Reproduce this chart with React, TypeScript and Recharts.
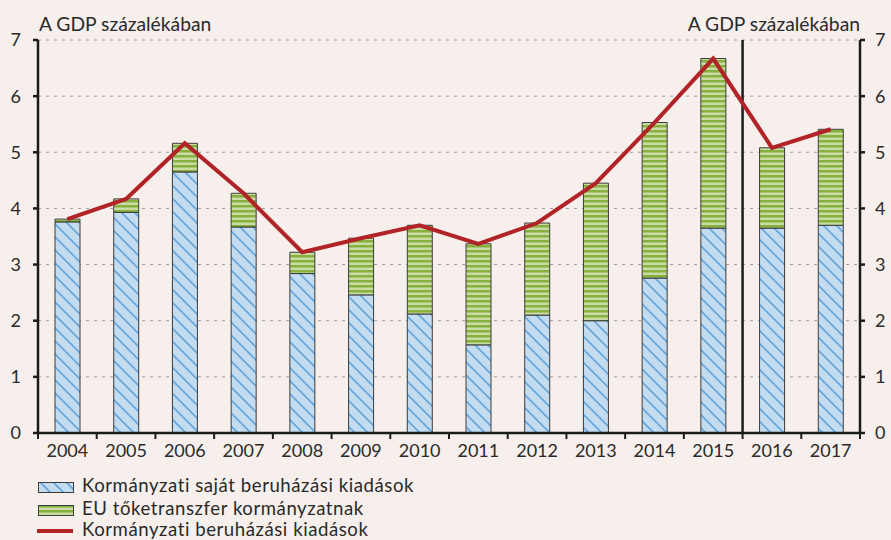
import React from 'react'
import {
  ComposedChart,
  Bar,
  Line,
  XAxis,
  YAxis,
  CartesianGrid,
  ReferenceLine
} from 'recharts'

const years = ['2004', '2005', '2006', '2007', '2008', '2009', '2010', '2011', '2012', '2013', '2014', '2015', '2016', '2017']
const ownInvestment = [3.76, 3.93, 4.65, 3.67, 2.84, 2.46, 2.12, 1.57, 2.1, 2.0, 2.76, 3.65, 3.65, 3.7]
const euTransfer = [0.05, 0.24, 0.51, 0.6, 0.38, 1.01, 1.58, 1.8, 1.64, 2.45, 2.77, 3.02, 1.43, 1.71]
const totalInvestment = [3.81, 4.17, 5.16, 4.27, 3.22, 3.47, 3.7, 3.37, 3.74, 4.45, 5.53, 6.67, 5.08, 5.41]
const yTicks = [0, 1, 2, 3, 4, 5, 6, 7]

const unitLabel = 'A GDP százalékában'
const ownLabel = 'Kormányzati saját beruházási kiadások'
const euLabel = 'EU tőketranszfer kormányzatnak'
const totalLabel = 'Kormányzati beruházási kiadások'

const data = years.map((year, i) => ({
  year,
  own: ownInvestment[i],
  eu: euTransfer[i],
  total: totalInvestment[i]
}))

const FONT = 'Lato, "Open Sans", sans-serif'
const AXIS = '#1c1c1c'
const TEXT = '#2a2a2a'

const Patterns = ({ prefix }: { prefix: string }) => (
  <defs>
    <pattern id={prefix + 'blue'} patternUnits="userSpaceOnUse" width="13" height="13">
      <rect width="13" height="13" fill="#c3dcf0" />
      <path d="M-3,-3 L16,16 M-3,10 L3,16 M10,-3 L16,3" stroke="#6aa8dc" strokeWidth="1.8" />
    </pattern>
    <pattern id={prefix + 'green'} patternUnits="userSpaceOnUse" width="5" height="5">
      <rect width="5" height="5" fill="#c8dca4" />
      <rect width="5" height="2.5" fill="#88b03e" />
    </pattern>
  </defs>
)

const YearTick = (props: any) => {
  const { x, y, payload, index } = props
  const half = payload && payload.offset ? payload.offset : 0
  return (
    <g>
      {index === 0 && <line x1={x - half} x2={x - half} y1={y} y2={y + 6} stroke={AXIS} strokeWidth={2} />}
      <line x1={x + half} x2={x + half} y1={y} y2={y + 6} stroke={AXIS} strokeWidth={2} />
      <text x={x} y={y + 24} textAnchor="middle" fill={TEXT} fontSize={18} fontFamily={FONT}>
        {payload.value}
      </text>
    </g>
  )
}

const InvestmentChart: React.FC = () => {
  return (
    <div style={{ position: 'absolute', left: 0, top: 0, width: 891, height: 540, background: '#f6efec', fontFamily: FONT }}>
      <ComposedChart
        width={891}
        height={540}
        data={data}
        margin={{ top: 40, right: 0, bottom: 77, left: 0 }}
        barSize={25}
      >
        <Patterns prefix="c-" />
        <CartesianGrid yAxisId="left" vertical={false} stroke="#9c9c9c" strokeDasharray="3 5" />
        <XAxis
          dataKey="year"
          height={30}
          tickLine={false}
          tickSize={0}
          tickMargin={0}
          interval={0}
          axisLine={{ stroke: AXIS, strokeWidth: 2.5 }}
          tick={<YearTick />}
        />
        <YAxis
          yAxisId="left"
          width={38}
          domain={[0, 7]}
          ticks={yTicks}
          tickSize={5}
          tickMargin={12}
          axisLine={{ stroke: AXIS, strokeWidth: 2.5 }}
          tickLine={{ stroke: AXIS, strokeWidth: 2.5 }}
          tick={{ fill: TEXT, fontSize: 18, fontFamily: FONT }}
        />
        <YAxis
          yAxisId="right"
          orientation="right"
          width={31}
          domain={[0, 7]}
          ticks={yTicks}
          tickSize={5}
          tickMargin={10}
          axisLine={{ stroke: AXIS, strokeWidth: 2.5 }}
          tickLine={{ stroke: AXIS, strokeWidth: 2.5 }}
          tick={{ fill: TEXT, fontSize: 18, fontFamily: FONT }}
        />
        <ReferenceLine yAxisId="left" x="2015" position="end" stroke={AXIS} strokeWidth={2.5} />
        <Bar yAxisId="left" dataKey="own" stackId="a" fill="url(#c-blue)" stroke="#3c3c3c" strokeWidth={1} isAnimationActive={false} />
        <Bar yAxisId="left" dataKey="eu" stackId="a" fill="url(#c-green)" stroke="#3c3c3c" strokeWidth={1} isAnimationActive={false} />
        <Line
          yAxisId="right"
          dataKey="total"
          type="linear"
          stroke="#b22328"
          strokeWidth={4}
          dot={false}
          activeDot={false}
          isAnimationActive={false}
        />
      </ComposedChart>

      <svg width={891} height={540} style={{ position: 'absolute', left: 0, top: 0, pointerEvents: 'none' }}>
        <Patterns prefix="l-" />
        <text x={39} y={31} fontSize={19.3} fill={TEXT} fontFamily={FONT}>{unitLabel}</text>
        <text x={860} y={31} fontSize={19.3} fill={TEXT} fontFamily={FONT} textAnchor="end">{unitLabel}</text>

        <rect x={38.5} y={482.5} width={35} height={10} fill="url(#l-blue)" stroke="#3c3c3c" />
        <text x={82} y={492} fontSize={18.6} letterSpacing={0.55} fill={TEXT} fontFamily={FONT}>{ownLabel}</text>

        <rect x={38.5} y={505.5} width={35} height={10} fill="url(#l-green)" stroke="#3c3c3c" />
        <text x={82} y={514.5} fontSize={18.6} letterSpacing={0.55} fill={TEXT} fontFamily={FONT}>{euLabel}</text>

        <line x1={37} x2={73} y1={531} y2={531} stroke="#b22328" strokeWidth={4} />
        <text x={82} y={536} fontSize={18.6} letterSpacing={0.55} fill={TEXT} fontFamily={FONT}>{totalLabel}</text>
      </svg>
    </div>
  )
}

export default InvestmentChart
